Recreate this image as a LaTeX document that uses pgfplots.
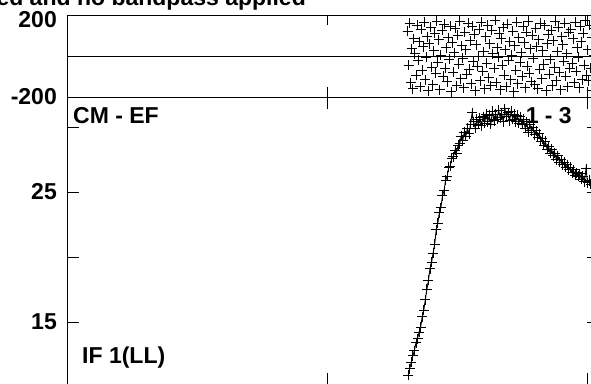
\documentclass[border=0pt]{standalone}
\usepackage{fontspec}
\setmainfont{Liberation Sans}
\usepackage{pgfplots}
\pgfplotsset{compat=1.18}

\pgfplotsset{
  possm/.style={
    scale only axis, anchor=south west, width=532pt,
    xmin=0, xmax=204.6, xtick={0,100,200}, xticklabels={},
    tick pos=both, tick align=inside,
    axis line style={black, line width=0.8pt},
    every tick/.style={black, line width=0.8pt},
    yticklabel style={font=\fontsize{23}{23}\selectfont\bfseries, inner sep=0pt, xshift=-10pt},
  },
}

\begin{document}
\begin{tikzpicture}[x=1pt,y=1pt]
\useasboundingbox (0pt,0pt) rectangle (591pt,383pt);
\clip (0pt,0pt) rectangle (591pt,383pt);

% phase panel
\begin{axis}[possm, at={(67pt,286pt)}, height=82pt, major tick length=10pt,
  ymin=-200, ymax=200, ytick={-200}, yticklabels={-200},
  extra y ticks={200}, extra y tick labels={200},
  extra y tick style={yticklabel style={yshift=-5pt}}]
  \addplot[black, line width=0.8pt, no marks] coordinates {(0,0) (204.6,0)};
  \addplot[only marks, mark=+, mark size=5pt, mark options={black, line width=0.9pt}] coordinates {
    (131.0,120) (131.4,-45) (131.8,160) (132.2,-130) (132.6,35) (133.0,-160) (133.4,85) (133.8,10) (134.2,-95) (134.6,150)
    (135.0,-20) (135.4,70) (135.8,-150) (136.2,130) (136.6,-70) (137.0,45) (137.4,165) (137.8,-115) (138.2,-5) (138.6,95)
    (139.0,-170) (139.4,60) (139.8,140) (140.2,-55) (140.6,-140) (141.0,25) (141.4,110) (141.8,-85) (142.2,170) (142.6,-30)
    (143.0,80) (143.4,-165) (143.8,5) (144.2,125) (144.6,-100) (145.0,155) (145.4,-60) (145.8,40) (146.2,-125) (146.6,90)
    (147.0,-15) (147.4,145) (147.8,-175) (148.2,65) (148.6,-80) (149.0,15) (149.4,135) (149.8,-145) (150.2,100) (150.6,-40)
    (151.0,170) (151.4,-110) (151.8,50) (152.2,-10) (152.6,-155) (153.0,115) (153.4,30) (153.8,-90) (154.2,160) (154.6,-65)
    (155.0,75) (155.4,-135) (155.8,145) (156.2,-25) (156.6,105) (157.0,-170) (157.4,55) (157.8,-50) (158.2,0) (158.6,130)
    (159.0,-120) (159.4,165) (159.8,-75) (160.2,20) (160.6,-160) (161.0,95) (161.4,-35) (161.8,150) (162.2,-105) (162.6,60)
    (163.0,-145) (163.4,125) (163.8,10) (164.2,-60) (164.6,175) (165.0,-130) (165.4,40) (165.8,-5) (166.2,110) (166.6,-165)
    (167.0,85) (167.4,-45) (167.8,140) (168.2,-95) (168.6,30) (169.0,-150) (169.4,155) (169.8,-20) (170.2,70) (170.6,-115)
    (171.0,5) (171.4,120) (171.8,-175) (172.2,50) (172.6,-70) (173.0,165) (173.4,-135) (173.8,90) (174.2,-30) (174.6,15)
    (175.0,-100) (175.4,145) (175.8,65) (176.2,-155) (176.6,115) (177.0,-50) (177.4,170) (177.8,-85) (178.2,35) (178.6,-125)
    (179.0,100) (179.4,-10) (179.8,-140) (180.2,135) (180.6,45) (181.0,-160) (181.4,80) (181.8,-65) (182.2,160) (182.6,-110)
    (183.0,25) (183.4,-40) (183.8,150) (184.2,-170) (184.6,60) (185.0,105) (185.4,-90) (185.8,-15) (186.2,125) (186.6,-145)
    (187.0,75) (187.4,-55) (187.8,170) (188.2,-120) (188.6,20) (189.0,140) (189.4,-80) (189.8,-165) (190.2,95) (190.6,55)
    (191.0,-25) (191.4,160) (191.8,-100) (192.2,10) (192.6,-150) (193.0,115) (193.4,-60) (193.8,130) (194.2,-35) (194.6,85)
    (195.0,-130) (195.4,165) (195.8,-75) (196.2,40) (196.6,-5) (197.0,-155) (197.4,145) (197.8,70) (198.2,-115) (198.6,110)
    (199.0,-45) (199.4,175) (199.8,-95) (200.2,30) (200.6,-120) (201.0,150) (201.4,-60) (201.8,90) (202.2,-170) (202.6,5)
    (203.0,135) (203.4,-85) (203.8,60) (204.2,-140) (204.6,120)
  };
\end{axis}

% amplitude panel
\begin{axis}[possm, at={(67pt,-2pt)}, height=288pt, major tick length=12pt,
  ymin=10.15, ymax=32.31, ytick={15,20,25,30}, yticklabels={15,,25,}]
  \addplot[black, line width=0.9pt, mark=+, mark size=5pt, mark options={line width=0.9pt}] coordinates {
    (131.2,10.9) (131.8,11.4) (132.4,11.9) (133.0,12.4) (133.6,12.8) (134.2,13.4) (134.8,13.7) (135.4,14.2) (136.0,14.6) (136.6,15.4)
    (137.2,15.9) (137.8,16.7) (138.4,17.5) (139.0,18.2) (139.6,19.1) (140.2,19.6) (140.8,20.3) (141.4,21.0) (142.0,22.1) (142.6,22.6)
    (143.2,23.4) (143.8,23.8) (144.4,24.7) (145.0,25.1) (145.6,25.9) (146.2,26.2) (146.8,26.9) (147.4,27.0) (148.0,27.6) (148.6,27.7)
    (149.2,28.2) (149.8,28.0) (150.4,28.6) (151.0,28.7) (151.6,29.3) (152.2,29.0) (152.8,29.6) (153.4,29.3) (154.0,29.9) (154.6,29.5)
    (155.2,30.2) (155.8,31.1) (156.4,30.4) (157.0,29.9) (157.6,30.6) (158.2,30.2) (158.8,30.7) (159.4,30.1) (160.0,30.8) (160.6,30.3)
    (161.2,31.0) (161.8,30.4) (162.4,30.9) (163.0,30.2) (163.6,31.2) (164.2,30.5) (164.8,31.0) (165.4,30.6) (166.0,31.3) (166.6,30.7)
    (167.2,31.0) (167.8,30.4) (168.4,31.4) (169.0,30.8) (169.6,31.1) (170.2,30.5) (170.8,31.2) (171.4,30.6) (172.0,31.0) (172.6,30.4)
    (173.2,30.9) (173.8,30.3) (174.4,30.8) (175.0,30.2) (175.6,30.6) (176.2,29.9) (176.8,30.4) (177.4,29.6) (178.0,30.2) (178.6,29.7)
    (179.2,30.0) (179.8,29.4) (180.4,29.7) (181.0,29.2) (181.6,29.5) (182.2,28.9) (182.8,29.1) (183.4,28.6) (184.0,28.9) (184.6,28.3)
    (185.2,28.5) (185.8,28.0) (186.4,28.3) (187.0,27.8) (187.6,28.0) (188.2,27.5) (188.8,27.8) (189.4,27.3) (190.0,27.5) (190.6,27.1)
    (191.2,27.3) (191.8,26.9) (192.4,27.1) (193.0,26.7) (193.6,26.9) (194.2,26.5) (194.8,26.7) (195.4,26.3) (196.0,26.5) (196.6,26.2)
    (197.2,26.4) (197.8,26.0) (198.4,26.2) (199.0,25.8) (199.6,26.8) (200.2,25.7) (200.8,25.9) (201.4,25.6) (202.0,25.8) (202.6,25.5)
    (203.2,25.7) (203.8,25.5) (204.4,25.6)
  };
\end{axis}

\node[anchor=base east, inner sep=0pt, font=\fontsize{23}{23}\selectfont\bfseries] at (306pt,377pt) {ed and no bandpass applied};
\node[anchor=base west, inner sep=0pt, font=\fontsize{23}{23}\selectfont\bfseries] at (73pt,259pt) {CM - EF};
\node[anchor=base east, inner sep=0pt, font=\fontsize{23}{23}\selectfont\bfseries] at (572pt,259pt) {1 - 3};
\node[anchor=base west, inner sep=0pt, font=\fontsize{23}{23}\selectfont\bfseries] at (82pt,20pt) {IF 1(LL)};
\end{tikzpicture}
\end{document}
